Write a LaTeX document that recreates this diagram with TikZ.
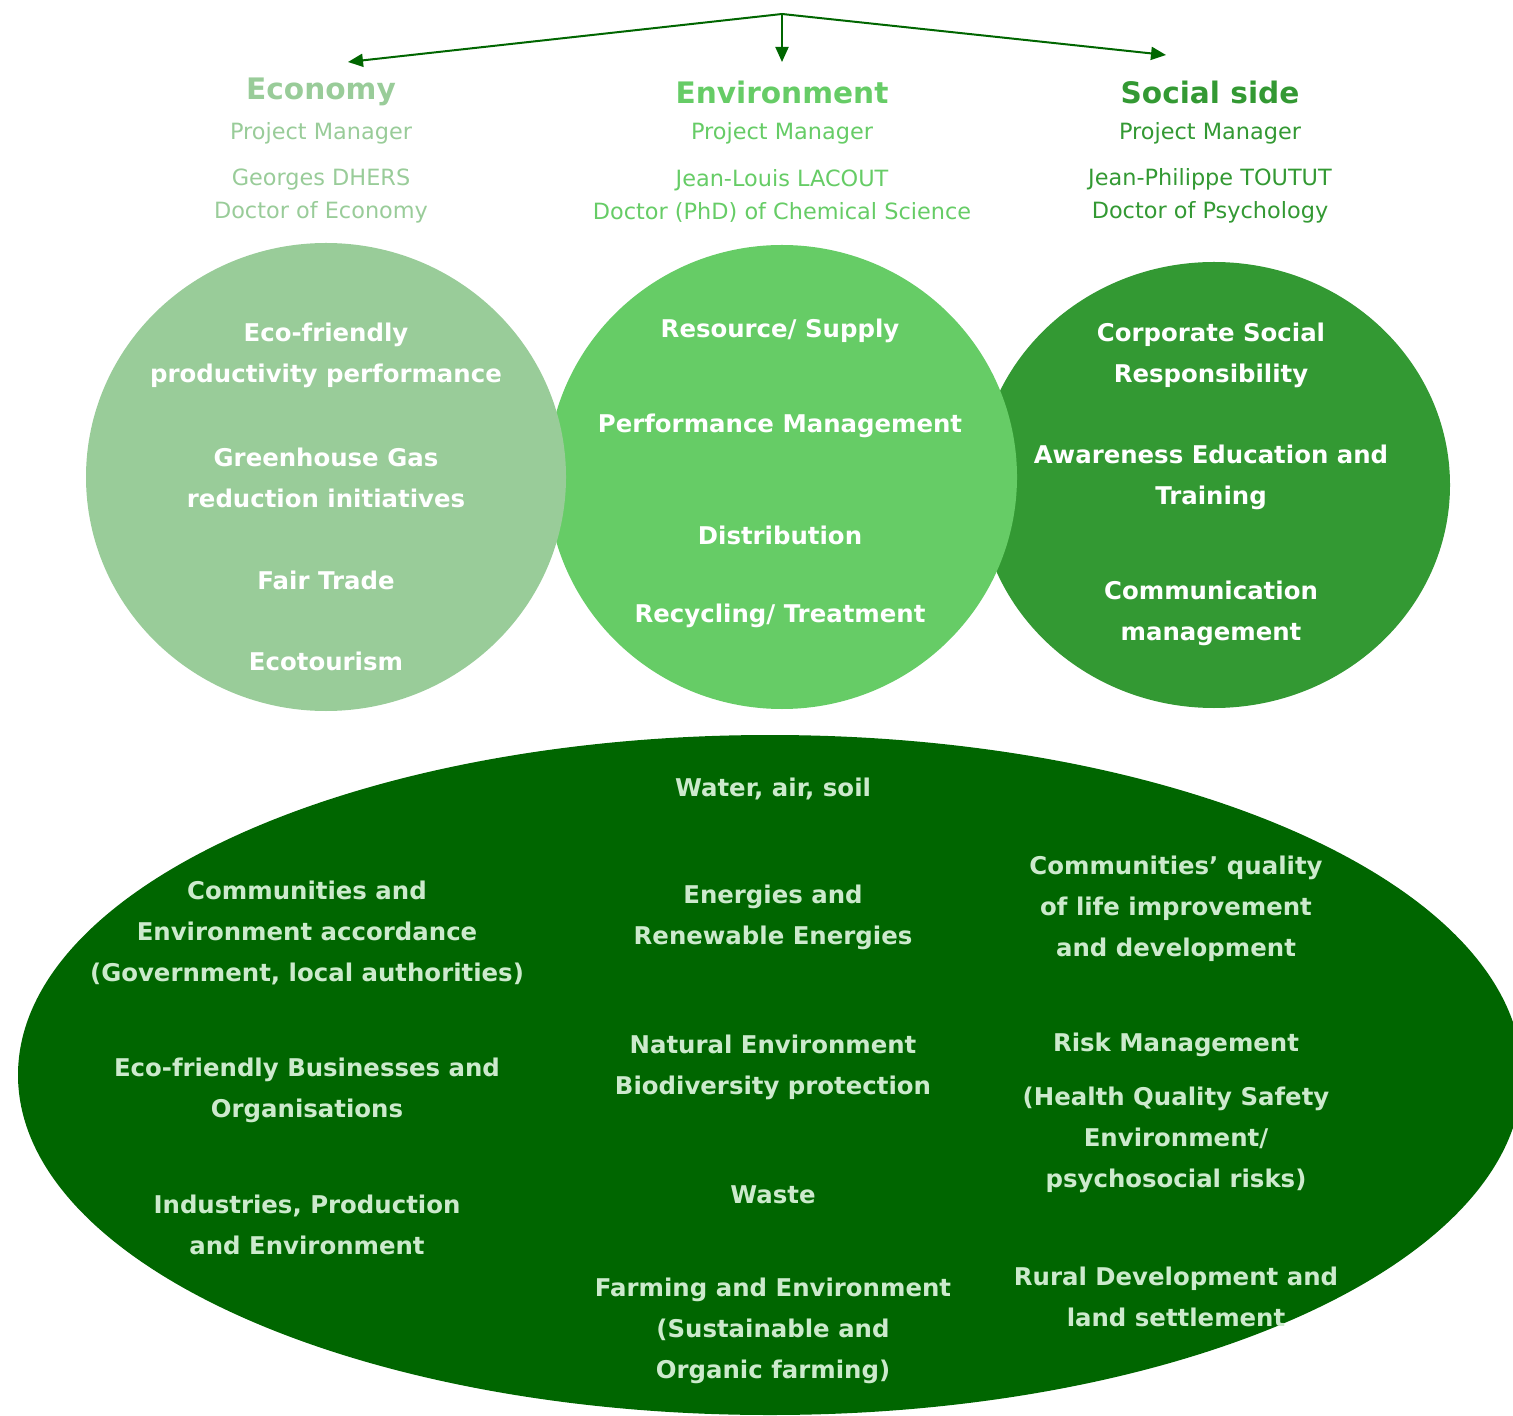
\documentclass[tikz,border=0pt]{standalone}
\usepackage{fontspec}
\setmainfont{DejaVu Sans}
\usetikzlibrary{shapes,arrows.meta,positioning}

\definecolor{ecocol}{HTML}{99CC99}
\definecolor{envcol}{HTML}{66CC66}
\definecolor{soccol}{HTML}{339933}
\definecolor{deepcol}{HTML}{006600}
\definecolor{palecol}{HTML}{CCEACC}

\begin{document}
\begin{tikzpicture}[x=0.5pt,y=-0.5pt,
		head/.style={yshift=-1.5pt,font=\bfseries\fontsize{14.8}{18}\selectfont},
		info/.style={yshift=-1.5pt,font=\fontsize{11.2}{16.5}\selectfont,align=center},
		item/.style={yshift=-1.5pt,text=white,font=\bfseries\fontsize{12.2}{20.5}\selectfont,align=center},
		deep/.style={yshift=-1.5pt,text=palecol,font=\bfseries\fontsize{12.2}{20.5}\selectfont,align=center}]
				\useasboundingbox (0,0) rectangle (1513,1416);
				\clip (0,0) rectangle (1513,1416);

				\fill [deepcol] (770,1075) ellipse [x radius=752, y radius=340];
				\fill [soccol] (1214,485) ellipse [x radius=236, y radius=223];
				\fill [envcol] (782,477) ellipse [x radius=235, y radius=232];
				\fill [ecocol] (326,477) ellipse [x radius=240, y radius=234];

				\coordinate (top) at (782,14);
				\coordinate (toEco) at (348,62);
				\coordinate (toEnv) at (782,62);
				\coordinate (toSoc) at (1166,55);
				\draw [-{Triangle[length=7.5pt,width=6.5pt]}] [draw=deepcol, line width=1pt] (top) -- (toEco);
				\draw [-{Triangle[length=7.5pt,width=6.5pt]}] [draw=deepcol, line width=1pt] (top) -- (toEnv);
				\draw [-{Triangle[length=7.5pt,width=6.5pt]}] [draw=deepcol, line width=1pt] (top) -- (toSoc);

				\node [head, text=ecocol] (ecoTitle) at (321,89) {Economy};
				\node [info, text=ecocol] (ecoRole) at (321,130) {Project Manager};
				\node [info, text=ecocol] (ecoName) at (321,193) {Georges DHERS\\Doctor of Economy};
				\node [head, text=envcol] (envTitle) at (782,89) {Environment};
				\node [info, text=envcol] (envRole) at (782,130) {Project Manager};
				\node [info, text=envcol] (envName) at (782,193) {Jean-Louis LACOUT\\Doctor (PhD) of Chemical Science};
				\node [head, text=soccol] (socTitle) at (1210,89) {Social side};
				\node [info, text=soccol] (socRole) at (1210,130) {Project Manager};
				\node [info, text=soccol] (socName) at (1210,193) {Jean-Philippe TOUTUT\\Doctor of Psychology};

				\node [item] (ecoA) at (326,352) {Eco-friendly\\productivity performance};
				\node [item] (ecoB) at (326,475) {Greenhouse Gas\\reduction initiatives};
				\node [item] (ecoC) at (326,577) {Fair Trade};
				\node [item] (ecoD) at (326,658) {Ecotourism};

				\node [item] (envA) at (780,328) {Resource/ Supply};
				\node [item] (envB) at (780,423) {Performance Management};
				\node [item] (envC) at (780,532) {Distribution};
				\node [item] (envD) at (780,613) {Recycling/ Treatment};

				\node [item] (socA) at (1211,352) {Corporate Social\\Responsibility};
				\node [item] (socB) at (1211,474) {Awareness Education and\\Training};
				\node [item] (socC) at (1211,610) {Communication\\management};

				\node [deep] (water) at (773,786) {Water, air, soil};
				\node [deep] (commA) at (307,930) {Communities and\\Environment accordance\\(Government, local authorities)};
				\node [deep] (business) at (307,1087) {Eco-friendly Businesses and\\Organisations};
				\node [deep] (industry) at (307,1222) {Industries, Production\\and Environment};
				\node [deep] (energy) at (773,914) {Energies and\\Renewable Energies};
				\node [deep] (nature) at (773,1064) {Natural Environment\\Biodiversity protection};
				\node [deep] (waste) at (773,1192) {Waste};
				\node [deep] (farming) at (773,1328) {Farming and Environment\\(Sustainable and\\Organic farming)};
				\node [deep] (commB) at (1176,906) {Communities' quality\\of life improvement\\and development};
				\node [deep] (risk) at (1176,1042) {Risk Management};
				\node [deep] (hqse) at (1176,1137) {(Health Quality Safety\\Environment/\\psychosocial risks)};
				\node [deep] (rural) at (1176,1294) {Rural Development and\\land settlement};

				\end{tikzpicture}
\end{document}
